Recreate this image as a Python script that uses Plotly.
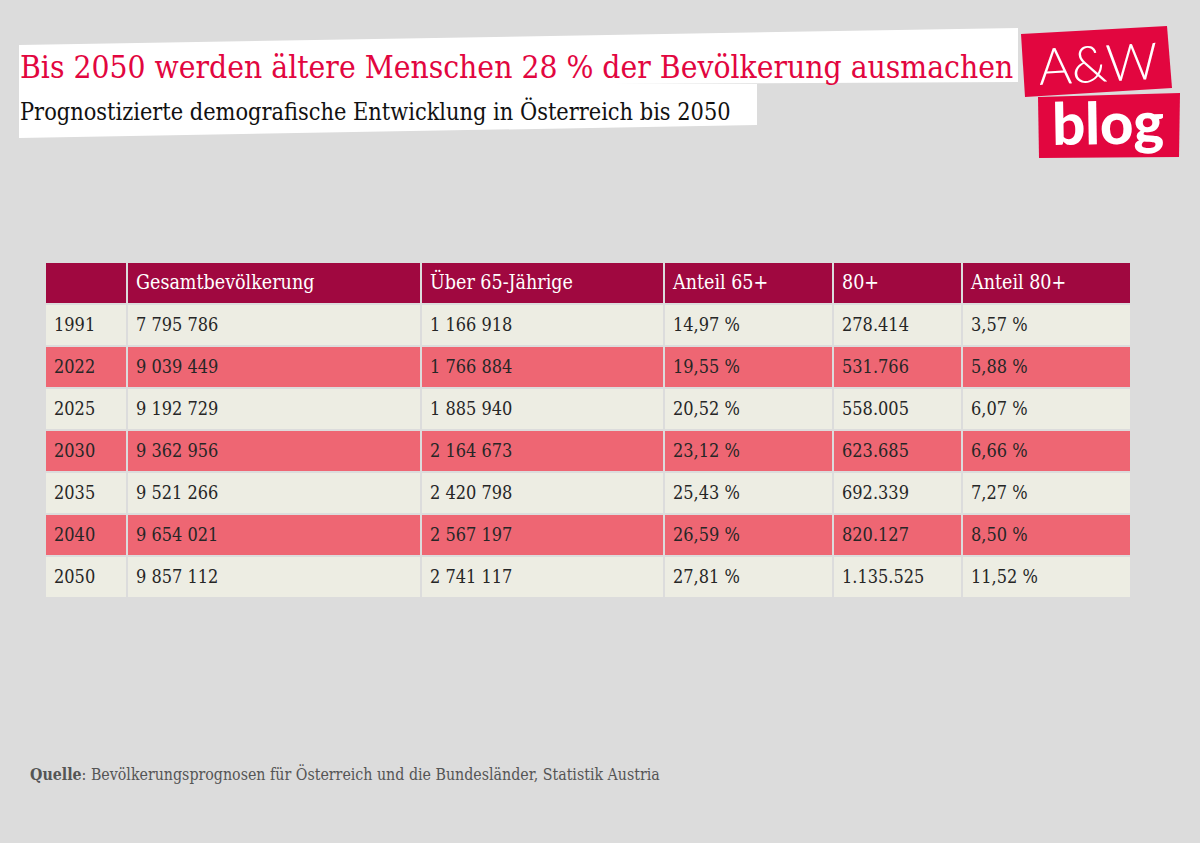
import plotly.graph_objects as go

# ---- data ----
years = ["1991", "2022", "2025", "2030", "2035", "2040", "2050"]
gesamt = [7795786, 9039449, 9192729, 9362956, 9521266, 9654021, 9857112]
ueber65 = [1166918, 1766884, 1885940, 2164673, 2420798, 2567197, 2741117]
anteil65 = [14.97, 19.55, 20.52, 23.12, 25.43, 26.59, 27.81]
plus80 = [278414, 531766, 558005, 623685, 692339, 820127, 1135525]
anteil80 = [3.57, 5.88, 6.07, 6.66, 7.27, 8.50, 11.52]
headers = ["", "Gesamtbevölkerung", "Über 65-Jährige", "Anteil 65+", "80+", "Anteil 80+"]

title = "Bis 2050 werden ältere Menschen 28 % der Bevölkerung ausmachen"
subtitle = "Prognostizierte demografische Entwicklung in Österreich bis 2050"
source_label = "Quelle"
source_text = ": Bevölkerungsprognosen für Österreich und die Bundesländer, Statistik Austria"

W, H = 1200, 843
BG = "#dcdcdc"
RED = "#e2063f"
HEAD = "#a00840"
PINK = "#ee6673"
CREAM = "#edede3"
FONT = "DejaVu Serif Condensed"


def fmt_space(v):
    return f"{v:,}".replace(",", " ")


def fmt_dot(v):
    return f"{v:,}".replace(",", ".")


def fmt_pct(v):
    return f"{v:.2f}".replace(".", ",") + " %"


columns = [
    years,
    [fmt_space(v) for v in gesamt],
    [fmt_space(v) for v in ueber65],
    [fmt_pct(v) for v in anteil65],
    [fmt_dot(v) for v in plus80],
    [fmt_pct(v) for v in anteil80],
]

# ---- table geometry (pixel layout) ----
col_edges = [45, 127, 421, 664, 833, 962, 1131]
tbl_top, row_h = 262, 42
n_rows = len(years) + 1
row_edges = [tbl_top + i * row_h for i in range(n_rows + 1)]
row_centers = [(row_edges[i] + row_edges[i + 1]) / 2 + 1.5 for i in range(n_rows)]
pad = 9

# row style codes: 0 header, 1 cream, 2 pink
z = [[0] * len(headers)] + [[1 if i % 2 == 0 else 2] * len(headers) for i in range(len(years))]

fig = go.Figure()
fig.add_trace(go.Heatmap(
    x=col_edges, y=row_edges, z=z, zmin=0, zmax=2, showscale=False, hoverinfo="skip",
    colorscale=[[0, HEAD], [0.333, HEAD], [0.333, CREAM], [0.667, CREAM], [0.667, PINK], [1, PINK]],
    xgap=2, ygap=2,
))

# header text
fig.add_trace(go.Scatter(
    x=[col_edges[j] + pad for j in range(len(headers))], y=[row_centers[0]] * len(headers),
    text=headers, mode="text", textposition="middle right", hoverinfo="skip",
    textfont=dict(family=FONT, size=19.5, color="white"),
))
# body text
bx, by, bt = [], [], []
for j, col in enumerate(columns):
    for i, val in enumerate(col):
        bx.append(col_edges[j] + pad)
        by.append(row_centers[i + 1])
        bt.append(val)
fig.add_trace(go.Scatter(
    x=bx, y=by, text=bt, mode="text", textposition="middle right", hoverinfo="skip",
    textfont=dict(family=FONT, size=18, color="#262626"),
))


def poly(pts, color):
    d = "M " + " L ".join(f"{x},{y}" for x, y in pts) + " Z"
    return dict(type="path", xref="x", yref="y", path=d,
                fillcolor=color, line=dict(width=0), layer="below")


shapes = [
    poly([(19, 45), (1018, 28), (1018, 82), (19, 87)], "white"),
    poly([(19, 84), (757, 84), (757, 125), (19, 138)], "white"),
    poly([(1021, 34), (1167, 26), (1172, 88), (1025, 97)], RED),
    poly([(1038, 97), (1180, 93), (1179, 157), (1039, 158)], RED),
]

annotations = [
    dict(text=title, x=18, y=67, xref="x", yref="y", xanchor="left", yanchor="middle",
         showarrow=False, font=dict(family=FONT, size=31.5, color=RED)),
    dict(text=subtitle, x=18, y=111, xref="x", yref="y", xanchor="left", yanchor="middle",
         showarrow=False, font=dict(family=FONT, size=23.3, color="#111111")),
    dict(text=f"<b>{source_label}</b>{source_text}", x=28, y=774, xref="x", yref="y",
         xanchor="left", yanchor="middle", showarrow=False, font=dict(family=FONT, size=15.8, color="#555555")),
    dict(text="A&amp;W", x=1098, y=62, xref="x", yref="y", xanchor="center", yanchor="middle",
         showarrow=False, textangle=-3, font=dict(family="Lato", size=51, color="white", weight=300)),
    dict(text="blog", x=1108, y=121, xref="x", yref="y", xanchor="center",
         yanchor="middle", showarrow=False, textangle=-1, font=dict(family="Lato", size=58, color="white", weight=900)),
]

fig.update_layout(
    width=W, height=H, margin=dict(l=0, r=0, t=0, b=0),
    paper_bgcolor=BG, plot_bgcolor=BG,
    xaxis=dict(range=[0, W], visible=False, fixedrange=True),
    yaxis=dict(range=[H, 0], visible=False, fixedrange=True),
    shapes=shapes, annotations=annotations, showlegend=False,
)

fig.write_html("out.html", config={"displayModeBar": False},
               post_script="document.body.style.margin='0';document.body.style.background='#dcdcdc';")
